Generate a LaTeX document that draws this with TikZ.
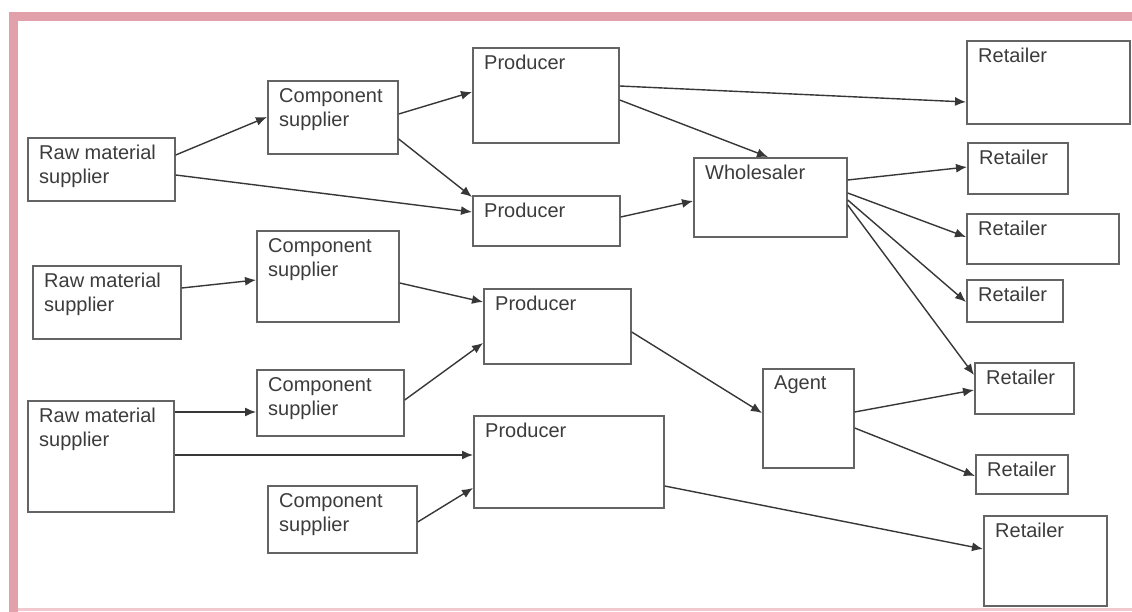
\documentclass[tikz,border=0pt]{standalone}
\usepackage{fontspec}
\setmainfont{Liberation Sans}
\usetikzlibrary{arrows.meta,calc}
\definecolor{framepink}{RGB}{226,160,170}
\definecolor{framepale}{RGB}{240,200,205}
\definecolor{boxline}{RGB}{100,100,100}
\definecolor{arrowline}{RGB}{55,55,55}
\definecolor{labeltext}{RGB}{60,60,60}
\begin{document}
\begin{tikzpicture}[x=1pt,y=-1pt,
  box/.style={draw=boxline, line width=1.7pt, rectangle, anchor=north west, inner sep=0pt},
  lbl/.style={anchor=north west, inner sep=0pt, xshift=12pt, yshift=-8pt, align=left,
    text=labeltext, font=\fontsize{20}{24}\selectfont},
  arr/.style={draw=arrowline, line width=1.4pt, -{Latex[length=11pt,width=9pt]}}]
\useasboundingbox (0,0) rectangle (1132,612);
% frame
\fill[white] (0,0) rectangle (1132,612);
\fill[framepink] (10,12) rectangle (1132,21);
\fill[framepink] (9,12) rectangle (18,612);
\fill[framepale] (18,608) rectangle (1132,611);

% boxes: \node at the top-left corner, size in pt
\newcommand{\chainbox}[6]{%
  \node[box, minimum width=#4pt, minimum height=#5pt,
        label={[lbl]north west:{#6}}] (#1) at (#2,#3) {};}

\chainbox{rm1}{27}{137}{147}{63}{Raw material\\supplier}
\chainbox{rm2}{32}{265}{148}{73}{Raw material\\supplier}
\chainbox{rm3}{27}{400}{146}{111}{Raw material\\supplier}
\chainbox{cs1}{267}{80}{130}{73}{Component\\supplier}
\chainbox{cs2}{256}{230}{142}{91}{Component\\supplier}
\chainbox{cs3}{256}{369}{147}{66}{Component\\supplier}
\chainbox{cs4}{267}{485}{149}{67}{Component\\supplier}
\chainbox{p1}{472}{47}{146}{95}{Producer}
\chainbox{p2}{472}{195}{147}{50}{Producer}
\chainbox{p3}{483}{288}{147}{75}{Producer}
\chainbox{p4}{473}{415}{190}{92}{Producer}
\chainbox{wh}{693}{157}{153}{79}{Wholesaler}
\chainbox{ag}{762}{368}{91}{99}{Agent}
\chainbox{r1}{966}{40}{163}{83}{Retailer}
\chainbox{r2}{967}{142}{100}{51}{Retailer}
\chainbox{r3}{966}{213}{152}{50}{Retailer}
\chainbox{r4}{966}{279}{96}{42}{Retailer}
\chainbox{r5}{974}{362}{99}{51}{Retailer}
\chainbox{r6}{975}{454}{92}{39}{Retailer}
\chainbox{r7}{983}{515}{123}{90}{Retailer}

% flows
\draw[arr] ($(rm1.north east)+(0,18)$) -- ($(cs1.north west)+(0,37)$);
\draw[arr] ($(rm1.north east)+(0,38)$) -- ($(p2.north west)+(0,17)$);
\draw[arr] ($(cs1.north east)+(0,34)$) -- ($(p1.north west)+(0,45)$);
\draw[arr] ($(cs1.north east)+(0,59)$) -- ($(p2.north west)+(0,2)$);
\draw[arr] ($(p1.north east)+(0,39)$) -- ($(r1.north west)+(0,62)$);
\draw[arr] ($(p1.north east)+(0,53)$) -- ($(wh.north west)+(75,0)$);
\draw[arr] ($(p2.north east)+(0,22)$) -- ($(wh.north west)+(0,44)$);
\draw[arr] ($(wh.north east)+(0,23)$) -- ($(r2.north west)+(0,25)$);
\draw[arr] ($(wh.north east)+(0,36)$) -- ($(r3.north west)+(0,24)$);
\draw[arr] ($(wh.north east)+(0,43)$) -- ($(r4.north west)+(0,23)$);
\draw[arr] ($(wh.north east)+(0,48)$) -- ($(r5.north west)+(0,13)$);
\draw[arr] ($(rm2.north east)+(0,23)$) -- ($(cs2.north west)+(0,50)$);
\draw[arr] ($(cs2.north east)+(0,53)$) -- ($(p3.north west)+(0,14)$);
\draw[arr] ($(cs3.north east)+(0,31)$) -- ($(p3.north west)+(0,55)$);
\draw[arr] ($(rm3.north east)+(0,12)$) -- ($(cs3.north west)+(0,43)$);
\draw[arr] ($(rm3.north east)+(0,55)$) -- ($(p4.north west)+(0,40)$);
\draw[arr] ($(cs4.north east)+(0,37)$) -- ($(p4.north west)+(0,73)$);
\draw[arr] ($(p3.north east)+(0,44)$) -- ($(ag.north west)+(0,45)$);
\draw[arr] ($(p4.north east)+(0,71)$) -- ($(r7.north west)+(0,34)$);
\draw[arr] ($(ag.north east)+(0,44)$) -- ($(r5.north west)+(0,28)$);
\draw[arr] ($(ag.north east)+(0,60)$) -- ($(r6.north west)+(0,22)$);
\end{tikzpicture}
\end{document}
